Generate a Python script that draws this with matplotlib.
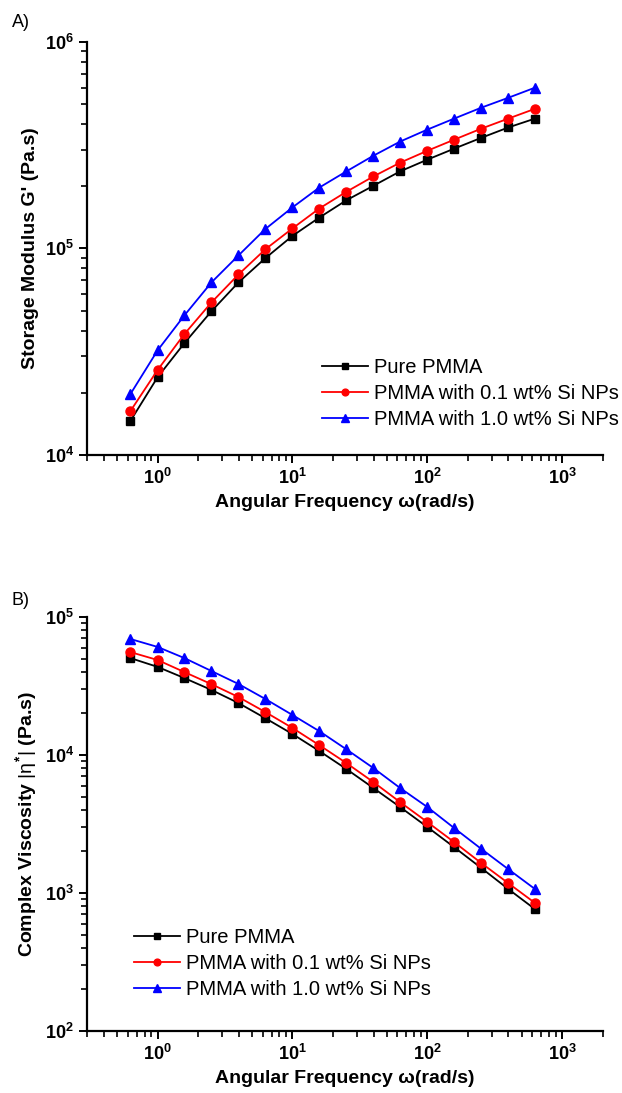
import matplotlib
matplotlib.use("Agg")
import matplotlib.pyplot as plt
import numpy as np

plt.rcParams["font.family"] = ["Liberation Sans", "DejaVu Sans"]
plt.rcParams["mathtext.fontset"] = "custom"
plt.rcParams["mathtext.rm"] = "Liberation Sans"
plt.rcParams["mathtext.bf"] = "Liberation Sans:bold"
plt.rcParams["mathtext.it"] = "Liberation Sans"

# angular frequency (rad/s)
omega = [0.628, 1.0, 1.58, 2.51, 3.98, 6.28, 10.0, 15.8, 25.1, 39.8,
         62.8, 100, 158, 251, 398, 628]

# storage modulus G'
g_pure = [14600, 23800, 34800, 49700, 68500, 89600, 115000, 141000, 171000,
          201000, 236000, 269000, 304000, 343000, 385000, 425000]
g_01 = [16300, 25800, 38500, 54800, 74800, 98900, 125000, 156000, 188000,
        223000, 260000, 297000, 336000, 380000, 425000, 474000]
g_10 = [19700, 32100, 47400, 68500, 92500, 124000, 158000, 197000, 236000,
        281000, 329000, 376000, 425000, 480000, 536000, 600000]

# complex viscosity |eta*|
eta_pure = [50400, 43500, 36100, 29600, 23800, 18500, 14200, 10700, 7920,
            5770, 4200, 3010, 2150, 1520, 1070, 765]
eta_01 = [55700, 48800, 39900, 32600, 26300, 20500, 15700, 11800, 8750,
          6370, 4560, 3270, 2340, 1650, 1180, 848]
eta_10 = [69300, 60700, 50400, 40600, 32700, 25500, 19500, 14900, 11000,
          8050, 5770, 4200, 2960, 2090, 1490, 1070]

labels = ["Pure PMMA", "PMMA with 0.1 wt% Si NPs", "PMMA with 1.0 wt% Si NPs"]
colors = ["black", "red", "blue"]
markers = ["s", "o", "^"]
msizes = [5.5, 6.5, 7.5]

x_ticks = [1, 10, 100, 1000]
x_ticklabels = [r"$\mathbf{10^{0}}$", r"$\mathbf{10^{1}}$",
                r"$\mathbf{10^{2}}$", r"$\mathbf{10^{3}}$"]


def style_axes(ax, ylim, yticks, yticklabels):
    ax.set_xscale("log")
    ax.set_yscale("log")
    ax.set_xlim(0.3, 2000)
    ax.set_ylim(*ylim)
    for s in ["top", "right"]:
        ax.spines[s].set_visible(False)
    for s in ["left", "bottom"]:
        ax.spines[s].set_linewidth(1.6)
    ax.set_xticks(x_ticks)
    ax.set_xticklabels(x_ticklabels, fontsize=13)
    ax.set_yticks(yticks)
    ax.set_yticklabels(yticklabels, fontsize=13)
    ax.tick_params(which="major", direction="out", length=6, width=1.4)
    ax.tick_params(which="minor", direction="out", length=4, width=1.2)
    ax.set_xlabel("Angular Frequency ω(rad/s)", fontsize=14,
                  fontweight="bold", labelpad=4)


fig = plt.figure(figsize=(6.22, 10.93), dpi=100)
ax1 = fig.add_axes([0.140, 0.5837, 0.829, 0.378])
ax2 = fig.add_axes([0.140, 0.0567, 0.829, 0.3788])

for ys, lab, c, m, ms in zip([g_pure, g_01, g_10], labels, colors, markers, msizes):
    ax1.plot(omega, ys, color=c, marker=m, markersize=ms, linewidth=1.3, label=lab)
for ys, lab, c, m, ms in zip([eta_pure, eta_01, eta_10], labels, colors, markers, msizes):
    ax2.plot(omega, ys, color=c, marker=m, markersize=ms, linewidth=1.3, label=lab)

style_axes(ax1, (1e4, 1e6), [1e4, 1e5, 1e6],
           [r"$\mathbf{10^{4}}$", r"$\mathbf{10^{5}}$", r"$\mathbf{10^{6}}$"])
style_axes(ax2, (1e2, 1e5), [1e2, 1e3, 1e4, 1e5],
           [r"$\mathbf{10^{2}}$", r"$\mathbf{10^{3}}$", r"$\mathbf{10^{4}}$",
            r"$\mathbf{10^{5}}$"])

ax1.set_ylabel("Storage Modulus G' (Pa.s)", fontsize=14, fontweight="bold")
ax2.set_ylabel(r"Complex Viscosity $|\eta^{\mathbf{*}}|$ (Pa.s)", fontsize=14,
               fontweight="bold")

leg_kw = dict(frameon=False, fontsize=14.5, handlelength=2.3, handletextpad=0.3,
              labelspacing=0.35, markerscale=0.75, borderpad=0, borderaxespad=0)
ax1.legend(loc="upper left", bbox_to_anchor=(0.455, 0.235), **leg_kw)
ax2.legend(loc="upper left", bbox_to_anchor=(0.091, 0.248), **leg_kw)

fig.text(0.019, 0.979, "A)", fontsize=13, va="center")
fig.text(0.019, 0.451, "B)", fontsize=13, va="center")

fig.savefig("out.png", dpi=100)
